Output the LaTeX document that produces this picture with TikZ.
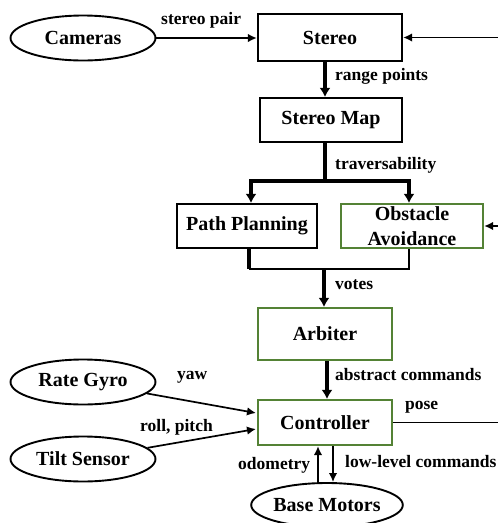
\documentclass[tikz,border=0pt]{standalone}
\usepackage{fontspec}
\setmainfont{Liberation Serif}
\usetikzlibrary{shapes.geometric,arrows.meta}
\definecolor{boxgreen}{RGB}{84,130,53}
\begin{document}
\begin{tikzpicture}[x=1pt,y=-1pt,
  every node/.style={font=\bfseries\fontsize{20}{25}\selectfont, inner sep=0pt},
  blk/.style={draw=black, line width=2.2pt, rectangle, minimum width=142pt, minimum height=44pt},
  grn/.style={blk, draw=boxgreen},
  oval/.style={draw=black, line width=1.9pt, ellipse, minimum width=145pt, minimum height=45pt},
  lbl/.style={font=\bfseries\fontsize{17.5}{19}\selectfont, anchor=west},
  wire/.style={line width=1.7pt},
  bus/.style={line width=4.2pt},
  tip/.style={-{Latex[length=9pt,width=8.5pt]}},
  bustip/.style={-{Latex[length=9pt,width=11pt]}}
]
\useasboundingbox (0,0) rectangle (498,523);

% modules
\node[oval] (cam) at (83,38) {Cameras};
\node[blk, minimum width=144pt, minimum height=47pt] (stereo) at (330,37.5) {Stereo};
\node[blk] (smap) at (331,120) {Stereo Map};
\node[blk, minimum width=140pt] (path) at (247,226) {Path Planning};
\node[grn, align=center] (obst) at (412,226) {Obstacle\\Avoidance};
\node[grn, minimum width=134pt, minimum height=52pt] (arb) at (325,334) {Arbiter};
\node[grn, minimum width=134pt, minimum height=45pt] (ctrl) at (325,422.5) {Controller};
\node[oval] (gyro) at (83,382) {Rate Gyro};
\node[oval] (tilt) at (83,459) {Tilt Sensor};
\node[oval, minimum width=140pt, minimum height=44pt] (motors) at (327,505) {Base Motors};

% routing points
\coordinate (edge) at (498,0);
\coordinate (split) at (325,181);
\coordinate (pl) at (251,181);
\coordinate (pr) at (409,181);
\coordinate (ml) at (249,269);
\coordinate (mr) at (409,269);
\coordinate (mid) at (324,269);
\coordinate (ac) at (327,0);
\coordinate (cg) at (256,413);
\coordinate (ct) at (256,429);
\coordinate (od) at (318,0);
\coordinate (ll) at (333,0);

% connectors
\draw[wire,tip] (cam.east) -- (cam.east -| stereo.west);
\draw[wire,tip] (stereo.east -| edge) -- (stereo.east);
\draw[bus,bustip] (stereo.south -| split) -- (smap.north -| split);
\draw[bus] (smap.south -| split) -- (split);
\draw[bus,bustip] (split) -| (pl |- path.north);
\draw[bus,bustip] (split) -| (pr |- obst.north);
\draw[wire,tip] (obst.east -| edge) -- (obst.east);
\draw[bus] (path.south -| ml) -- (ml);
\draw[wire] (obst.south -| mr) -- (mr) -- (ml);
\draw[bus,bustip] (mid) -- (mid |- arb.north);
\draw[bus,bustip] (arb.south -| ac) -- (ctrl.north -| ac);
\draw[wire,tip] (gyro) -- (cg);
\draw[wire,tip] (tilt) -- (ct);
\draw[wire] (ctrl.east) -- (ctrl.east -| edge);
\draw[wire,tip] (motors.north -| od) -- (ctrl.south -| od);
\draw[wire,tip] (ctrl.south -| ll) -- (motors.north -| ll);

% connector labels
\node[lbl] (lpair) at (161,20) {stereo pair};
\node[lbl] (lrange) at (335,76) {range points};
\node[lbl] (ltrav) at (335,165) {traversability};
\node[lbl] (lvotes) at (335,285) {votes};
\node[lbl] (labs) at (335,375) {abstract commands};
\node[lbl] (lyaw) at (177,377) {yaw};
\node[lbl] (lroll) at (140,427) {roll, pitch};
\node[lbl] (lpose) at (405,407) {pose};
\node[lbl] (lodo) at (238,465) {odometry};
\node[lbl] (llow) at (345,462) {low-level commands};
\end{tikzpicture}
\end{document}
